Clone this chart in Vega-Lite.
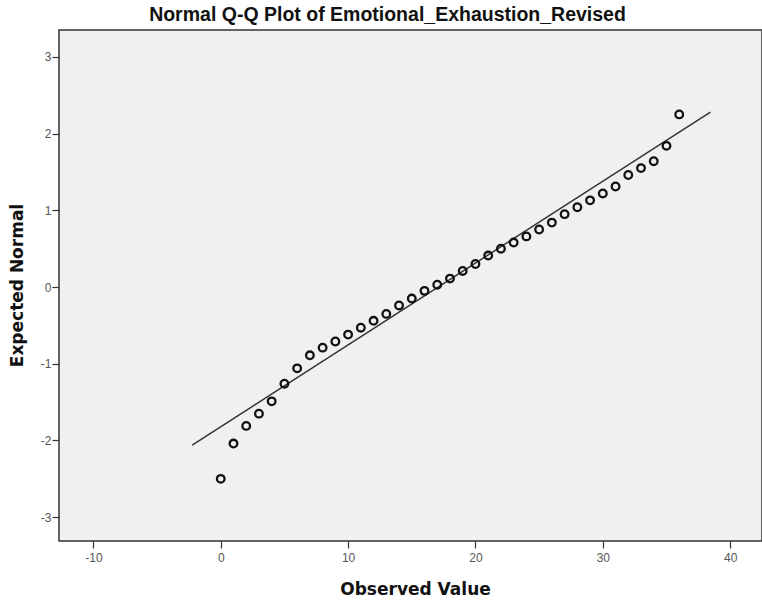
{
  "$schema": "https://vega.github.io/schema/vega-lite/v6.json",
  "width": 703,
  "height": 511,
  "autosize": {"type": "none"},
  "padding": {"left": 59, "top": 30, "right": 0, "bottom": 62},
  "background": "white",
  "title": {
    "text": "Normal Q-Q Plot of Emotional_Exhaustion_Revised",
    "font": "Liberation Sans",
    "fontSize": 19.5,
    "fontWeight": "bold",
    "color": "#111",
    "anchor": "middle",
    "frame": "group",
    "dx": -23,
    "offset": 5
  },
  "config": {
    "view": {"fill": "#f0f0f0", "stroke": "#333", "strokeWidth": 1.5},
    "axis": {
      "labelFont": "Liberation Sans",
      "labelFontSize": 12,
      "labelColor": "#555",
      "titleFont": "DejaVu Sans",
      "titleFontSize": 17,
      "titleFontWeight": "bold",
      "titleColor": "#111",
      "tickColor": "#333",
      "tickSize": 7,
      "tickWidth": 1.2,
      "domain": false,
      "grid": false
    }
  },
  "datasets": {
    "points": [
      {"observed": 0, "expected": -2.50},
      {"observed": 1, "expected": -2.04},
      {"observed": 2, "expected": -1.81},
      {"observed": 3, "expected": -1.65},
      {"observed": 4, "expected": -1.49},
      {"observed": 5, "expected": -1.26},
      {"observed": 6, "expected": -1.06},
      {"observed": 7, "expected": -0.89},
      {"observed": 8, "expected": -0.79},
      {"observed": 9, "expected": -0.71},
      {"observed": 10, "expected": -0.62},
      {"observed": 11, "expected": -0.53},
      {"observed": 12, "expected": -0.44},
      {"observed": 13, "expected": -0.35},
      {"observed": 14, "expected": -0.24},
      {"observed": 15, "expected": -0.15},
      {"observed": 16, "expected": -0.05},
      {"observed": 17, "expected": 0.03},
      {"observed": 18, "expected": 0.11},
      {"observed": 19, "expected": 0.21},
      {"observed": 20, "expected": 0.30},
      {"observed": 21, "expected": 0.41},
      {"observed": 22, "expected": 0.50},
      {"observed": 23, "expected": 0.58},
      {"observed": 24, "expected": 0.66},
      {"observed": 25, "expected": 0.75},
      {"observed": 26, "expected": 0.84},
      {"observed": 27, "expected": 0.95},
      {"observed": 28, "expected": 1.04},
      {"observed": 29, "expected": 1.13},
      {"observed": 30, "expected": 1.22},
      {"observed": 31, "expected": 1.31},
      {"observed": 32, "expected": 1.46},
      {"observed": 33, "expected": 1.55},
      {"observed": 34, "expected": 1.64},
      {"observed": 35, "expected": 1.84},
      {"observed": 36, "expected": 2.25}
    ],
    "refline": [
      {"observed": -2.24, "expected": -2.06},
      {"observed": 38.45, "expected": 2.28}
    ]
  },
  "layer": [
    {
      "data": {"name": "refline"},
      "mark": {"type": "line", "color": "#333", "strokeWidth": 1.5},
      "encoding": {
        "x": {"field": "observed", "type": "quantitative"},
        "y": {"field": "expected", "type": "quantitative"}
      }
    },
    {
      "data": {"name": "points"},
      "mark": {"type": "point", "shape": "circle", "filled": false, "stroke": "#111", "strokeWidth": 2.3, "size": 58, "opacity": 1},
      "encoding": {
        "x": {
          "field": "observed",
          "type": "quantitative",
          "scale": {"domain": [-12.7, 42.5], "nice": false, "zero": false},
          "axis": {
            "values": [-10, 0, 10, 20, 30, 40],
            "labelExpr": "'' + datum.value",
            "title": "Observed Value",
            "labelPadding": 4,
            "titleX": 356,
            "titleY": 48,
            "titleBaseline": "middle"
          }
        },
        "y": {
          "field": "expected",
          "type": "quantitative",
          "scale": {"domain": [-3.31, 3.35], "nice": false, "zero": false},
          "axis": {
            "values": [-3, -2, -1, 0, 1, 2, 3],
            "labelExpr": "'' + datum.value",
            "title": "Expected Normal",
            "labelPadding": 1,
            "titleX": -42,
            "titleY": 255,
            "titleAngle": -90,
            "titleBaseline": "middle"
          }
        }
      }
    }
  ]
}
